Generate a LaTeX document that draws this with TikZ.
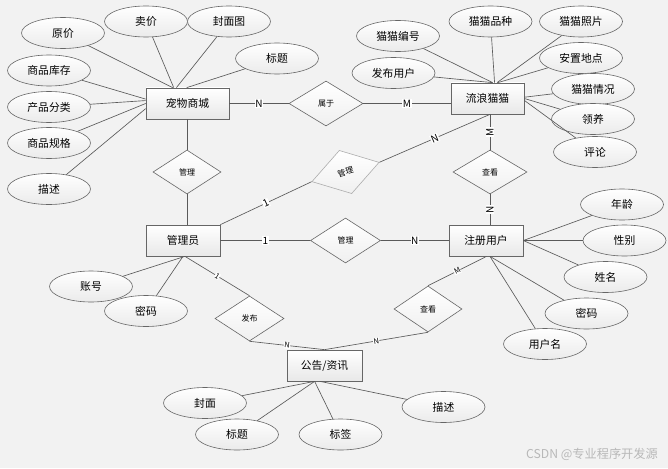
\documentclass[tikz,border=0pt]{standalone}
\usepackage{fontspec}
\setmainfont{Noto Sans CJK SC}
\usetikzlibrary{shapes.geometric,shadows}
\definecolor{bg}{HTML}{F2F2F2}
\definecolor{edgec}{HTML}{666666}
\definecolor{linec}{HTML}{5A5A5A}
\begin{document}
\begin{tikzpicture}[x=1pt,y=-1pt,
  ent/.style={rectangle, draw=edgec, line width=0.7pt, top color=white, bottom color=black!9,
    minimum width=74, minimum height=31, inner sep=0pt,
    drop shadow={shadow xshift=1.2pt, shadow yshift=-1.2pt, opacity=0.35},
    font=\fontsize{10.8}{12}\selectfont},
  attr/.style={ellipse, draw=edgec, line width=0.6pt, top color=white, bottom color=black!8,
    minimum width=83, minimum height=31, inner sep=0pt, font=\fontsize{10.8}{12}\selectfont},
  rel/.style={diamond, draw=edgec, line width=0.6pt, top color=white, bottom color=black!6,
    minimum width=70, minimum height=45, inner sep=0pt, font=\fontsize{8}{9}\selectfont},
  ln/.style={draw=linec, line width=0.65pt},
  lab/.style={fill=white, inner sep=0.6pt, font=\fontsize{10}{10}\selectfont},
  slab/.style={fill=white, inner sep=0.4pt, font=\fontsize{7.5}{8}\selectfont}]
\useasboundingbox (0,0) rectangle (668,468);
\fill[bg] (0,0) rectangle (668,468);

% entities
\node[ent, minimum width=83] (shop) at (187.5,103.5) {宠物商城};
\node[ent, minimum width=73] (cat) at (487.5,98.5) {流浪猫猫};
\node[ent] (admin) at (183,240.5) {管理员};
\node[ent] (user) at (486,240.5) {注册用户};
\node[ent, minimum width=75] (news) at (324.5,365.5) {公告/资讯};

% relationships
\node[rel, minimum width=74] (belong) at (326,103.5) {属于};
\node[rel, minimum width=68, minimum height=44] (mg1) at (187,172) {管理};
\node[rel, draw=black!32, rotate=16] (mg2) at (345.5,172) {管理};
\node[rel, minimum width=74, minimum height=44] (view1) at (490,172) {查看};
\node[rel] (mg3) at (345.5,240.5) {管理};
\node[rel, minimum width=69] (pub) at (249.5,318.5) {发布};
\node[rel, minimum width=68, minimum height=46] (view2) at (428,309) {查看};

% shop attributes
\node[attr] (a1) at (63,33) {原价};
\node[attr] (a2) at (146,21.5) {卖价};
\node[attr] (a3) at (229,21.5) {封面图};
\node[attr] (a4) at (277,58.5) {标题};
\node[attr] (a5) at (49,70.5) {商品库存};
\node[attr] (a6) at (49,107) {产品分类};
\node[attr] (a7) at (49,143) {商品规格};
\node[attr] (a8) at (49,189) {描述};
\draw[ln] (a1) -- (shop.133);
\draw[ln] (a2) -- (shop.131);
\draw[ln] (a3) -- (shop.125);
\draw[ln] (a4) -- (shop.93);
\draw[ln] (a5) -- (shop.174);
\draw[ln] (a6) -- (shop.176);
\draw[ln] (a7) -- (shop.180);
\draw[ln] (a8) -- (shop.187);

% cat attributes
\node[attr] (c1) at (398,36) {猫猫编号};
\node[attr] (c2) at (490.5,21.5) {猫猫品种};
\node[attr] (c3) at (581,21.5) {猫猫照片};
\node[attr] (c4) at (581,58) {安置地点};
\node[attr] (c5) at (393.5,73) {发布用户};
\node[attr] (c6) at (593,89) {猫猫情况};
\node[attr] (c7) at (593,119) {领养};
\node[attr] (c8) at (595,152) {评论};
\draw[ln] (c1) -- (cat.72);
\draw[ln] (c2) -- (cat.66);
\draw[ln] (c3) -- (cat.59);
\draw[ln] (c4) -- (cat.57);
\draw[ln] (c5) -- (cat.72);
\draw[ln] (c6) -- (cat.2);
\draw[ln] (c7) -- (cat.0);
\draw[ln] (c8) -- (cat.-3);

% admin attributes
\node[attr] (d1) at (91,286.5) {账号};
\node[attr] (d2) at (146,311) {密码};
\draw[ln] (d1) -- (admin.-83);
\draw[ln] (d2) -- (admin.-90);

% user attributes
\node[attr] (u1) at (622,204.5) {年龄};
\node[attr] (u2) at (624.5,240.5) {性别};
\node[attr] (u3) at (605.5,277) {姓名};
\node[attr] (u4) at (586.5,313.5) {密码};
\node[attr] (u5) at (545,344) {用户名};
\draw[ln] (u1) -- (user.east);
\draw[ln] (u2) -- (user.east);
\draw[ln] (u3) -- (user.east);
\draw[ln] (u4) -- (user.-76);
\draw[ln] (u5) -- (user.-76);

% news attributes
\node[attr] (n1) at (205,403) {封面};
\node[attr] (n2) at (237,434.5) {标题};
\node[attr] (n3) at (340.5,434.5) {标签};
\node[attr] (n4) at (443.5,407) {描述};
\draw[ln] (n1) -- (news.238);
\draw[ln] (n2) -- (news.238);
\draw[ln] (n3) -- (news.238);
\draw[ln] (n4) -- (news.-106);

% relationship connectors
\draw[ln] (shop.east |- belong.west) -- node[lab]{N} (belong.west);
\draw[ln] (belong.east) -- node[lab]{M} (belong.east -| cat.west);
\draw[ln] (mg1.north |- shop.south) -- (mg1.north);
\draw[ln] (mg1.south) -- (mg1.south |- admin.north);
\draw[ln] (admin.north east) -- node[lab, sloped]{1} (mg2.west);
\draw[ln] (mg2.east) -- node[lab, sloped]{N} (view1.north |- cat.south);
\draw[ln] (view1.north |- cat.south) -- node[lab, rotate=90]{M} (view1.north);
\draw[ln] (view1.south) -- node[lab, rotate=90]{N} (view1.south |- user.north);
\draw[ln] (admin.east) -- node[lab]{1} (mg3.west);
\draw[ln] (mg3.east) -- node[lab]{N} (user.west);
\draw[ln] (admin.-83) -- node[slab, sloped]{1} (pub.north);
\draw[ln] (pub.south) -- node[slab, sloped]{N} (news.north);
\draw[ln] (user.-88) -- node[slab, sloped]{M} (view2.north);
\draw[ln] (view2.south) -- node[slab, sloped]{N} (news.north);

% watermark
\node[anchor=east, text=black!28, inner sep=0pt, font=\fontsize{12.2}{13}\selectfont] (wm) at (658,454.5) {CSDN @专业程序开发源};
\end{tikzpicture}
\end{document}
